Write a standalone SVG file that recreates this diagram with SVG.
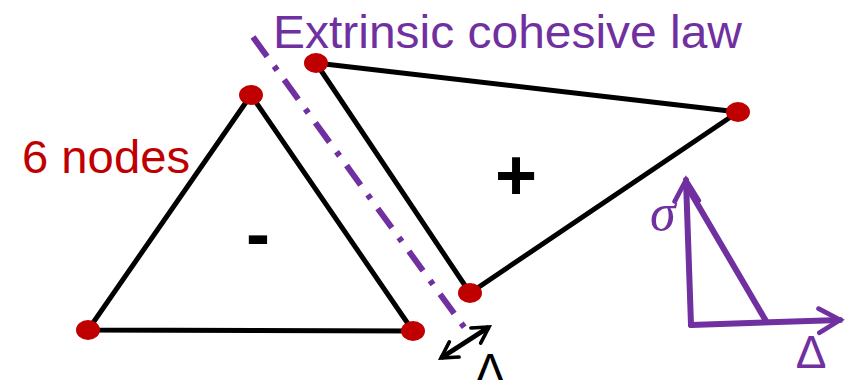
<svg xmlns="http://www.w3.org/2000/svg" width="846" height="380" viewBox="0 0 846 380">
<style>
.edge{fill:none;stroke:#000;stroke-width:5;stroke-linejoin:miter}
.node{fill:#C00000}
.pur{fill:none;stroke:#7030A0;stroke-width:6;stroke-linecap:round;stroke-linejoin:round}
.t{font-family:"Liberation Sans",Arial,sans-serif}
</style>
<defs>
<marker id="ah" viewBox="0 0 10 10" refX="8" refY="5" markerWidth="5" markerHeight="5" orient="auto-start-reverse" markerUnits="strokeWidth">
<path d="M1,1 L8,5 L1,9" fill="none" stroke="context-stroke" stroke-width="1.6" stroke-linecap="round"/>
</marker>
<marker id="ah2" viewBox="0 0 10 10" refX="8" refY="5" markerWidth="4.5" markerHeight="4.5" orient="auto-start-reverse" markerUnits="strokeWidth">
<path d="M1,1 L8,5 L1,9" fill="none" stroke="#000" stroke-width="1.6" stroke-linecap="round"/>
</marker>
</defs>
<rect width="846" height="380" fill="#fff"/>
<g id="connectors">
<line x1="253" y1="37" x2="472" y2="338" stroke="#7030A0" stroke-width="6" stroke-dasharray="24 12 5 12"/>
<polygon class="edge" points="251,95 88,330 413,331"/>
<polygon class="edge" points="316,63 738,112 470,293"/>
<line x1="441" y1="358" x2="489" y2="327" stroke="#000" stroke-width="5" marker-start="url(#ah2)" marker-end="url(#ah2)"/>
</g>
<g id="n1"><ellipse class="node" cx="251" cy="95" rx="12" ry="10"/></g>
<g id="n2"><ellipse class="node" cx="88" cy="330" rx="12" ry="10"/></g>
<g id="n3"><ellipse class="node" cx="413" cy="331" rx="12" ry="10"/></g>
<g id="n4"><ellipse class="node" cx="316" cy="63" rx="12" ry="10"/></g>
<g id="n5"><ellipse class="node" cx="738" cy="112" rx="12" ry="10"/></g>
<g id="n6"><ellipse class="node" cx="470" cy="293" rx="12" ry="10"/></g>
<g id="law">
<line class="pur" x1="691" y1="325" x2="686" y2="180" marker-end="url(#ah)"/>
<line class="pur" x1="691" y1="325" x2="840" y2="320" marker-end="url(#ah)"/>
<line class="pur" x1="688" y1="188" x2="766" y2="321"/>
</g>
<text class="t" x="273" y="48" font-size="46" fill="#7030A0" textLength="469" lengthAdjust="spacingAndGlyphs">Extrinsic cohesive law</text>
<text class="t" x="22" y="173" font-size="46" fill="#C00000" textLength="168" lengthAdjust="spacingAndGlyphs">6 nodes</text>
<text class="t" x="258" y="258" font-size="72" font-weight="bold" text-anchor="middle">-</text>
<text class="t" x="516" y="200" font-size="72" font-weight="bold" text-anchor="middle">+</text>
<text x="650" y="230" font-size="52" font-style="italic" font-family="'Liberation Serif','Times New Roman',serif" fill="#7030A0">σ</text>
<text class="t" x="811" y="368" font-size="46" fill="#7030A0" text-anchor="middle">Δ</text>
<text class="t" x="490" y="386" font-size="46" fill="#000" text-anchor="middle">Δ</text>
</svg>
